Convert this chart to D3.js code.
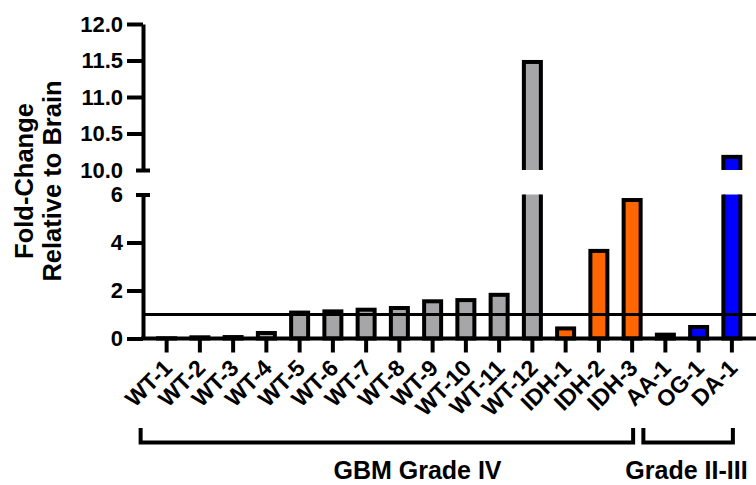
<!DOCTYPE html>
<html><head><meta charset="utf-8">
<script src="https://cdn.jsdelivr.net/npm/d3@7"></script>
<style>
body{margin:0;background:#fff}
svg text{font-family:"Liberation Sans",Arial,sans-serif;font-weight:bold;fill:#000}
</style>
</head><body>
<svg id="chart" width="756" height="485"></svg>
<script>
const categories = ["WT-1","WT-2","WT-3","WT-4","WT-5","WT-6","WT-7","WT-8","WT-9","WT-10","WT-11","WT-12","IDH-1","IDH-2","IDH-3","AA-1","OG-1","DA-1"];
const values = [0.01,0.05,0.06,0.23,1.08,1.13,1.2,1.27,1.55,1.6,1.82,11.48,0.42,3.65,5.77,0.16,0.48,10.18];
const subtypes = ["WT","WT","WT","WT","WT","WT","WT","WT","WT","WT","WT","WT","IDH","IDH","IDH","LGG","LGG","LGG"];
const lowerTicks = [0,2,4,6];
const upperTicks = [10,10.5,11,11.5,12];
const referenceLevel = 1;
const groupNames = ["GBM Grade IV","Grade II-III"];
const groupFirst = ["WT-1","AA-1"];
const groupLast = ["IDH-3","DA-1"];

const svg = d3.select("#chart");
const axisX = 143, rightEdge = 756;
const color = d3.scaleOrdinal().domain(["WT","IDH","LGG"]).range(["#a6a6a8","#ff6600","#0000ff"]);
const x = d3.scaleBand().domain(categories).range([150, 748.5]).padding(0);
const yLow = d3.scaleLinear().domain([0,6]).range([338.5,194.5]);
const yUp = d3.scaleLinear().domain([10,12]).range([170,24]);
const barW = 17;
const data = categories.map((c,i)=>({c, v: values[i], s: subtypes[i]}));

const defs = svg.append("defs");
defs.append("clipPath").attr("id","clipLow").append("rect")
  .attr("x",axisX).attr("y",yLow(6)).attr("width",rightEdge-axisX).attr("height",yLow(0)-yLow(6)+10);
defs.append("clipPath").attr("id","clipUp").append("rect")
  .attr("x",axisX).attr("y",0).attr("width",rightEdge-axisX).attr("height",yUp(10));

// lower bars
svg.append("g").attr("clip-path","url(#clipLow)").selectAll("rect").data(data).join("rect")
  .attr("x", d => x(d.c) + x.bandwidth()/2 - barW/2)
  .attr("y", d => yLow(d.v))
  .attr("width", barW)
  .attr("height", d => yLow(0) - yLow(d.v))
  .attr("fill", d => color(d.s)).attr("stroke","#000").attr("stroke-width",4);

// upper bars
svg.append("g").attr("clip-path","url(#clipUp)").selectAll("rect").data(data.filter(d=>d.v>10)).join("rect")
  .attr("x", d => x(d.c) + x.bandwidth()/2 - barW/2)
  .attr("y", d => yUp(d.v))
  .attr("width", barW)
  .attr("height", d => yUp(10) - yUp(d.v) + 10)
  .attr("fill", d => color(d.s)).attr("stroke","#000").attr("stroke-width",4);

// reference line
svg.append("line").attr("x1",axisX).attr("x2",rightEdge)
  .attr("y1",yLow(referenceLevel)).attr("y2",yLow(referenceLevel))
  .attr("stroke","#000").attr("stroke-width",3);

function styleAxis(g, breakVal){
  g.select(".domain").attr("stroke","#000").attr("stroke-width",4);
  g.selectAll(".tick line").attr("stroke","#000").attr("stroke-width",4);
  g.selectAll(".tick text").style("font-size","22px").attr("fill","#000");
  g.selectAll(".tick").filter(d => d === breakVal).select("line").attr("x1",-7).attr("x2",7);
}
// y axes
const gLow = svg.append("g").attr("transform",`translate(${axisX},0)`)
  .call(d3.axisLeft(yLow).tickValues(lowerTicks).tickSize(16).tickSizeOuter(0).tickPadding(4).tickFormat(d3.format("d")));
styleAxis(gLow, 6);
const gUp = svg.append("g").attr("transform",`translate(${axisX},0)`)
  .call(d3.axisLeft(yUp).tickValues(upperTicks).tickSize(16).tickSizeOuter(0).tickPadding(4).tickFormat(d3.format(".1f")));
styleAxis(gUp, 10);

// x axis
svg.append("line").attr("x1",axisX-2).attr("x2",rightEdge).attr("y1",yLow(0)).attr("y2",yLow(0))
  .attr("stroke","#000").attr("stroke-width",4);
const gX = svg.append("g").attr("transform",`translate(0,${yLow(0)})`)
  .call(d3.axisBottom(x).tickSize(14).tickSizeOuter(0));
gX.select(".domain").remove();
gX.selectAll(".tick line").attr("stroke","#000").attr("stroke-width",4);
gX.selectAll(".tick text").attr("x",0).attr("y",0).attr("dy",0)
  .attr("text-anchor","end").attr("transform","translate(7,31) rotate(-45)")
  .style("font-size","23px").attr("fill","#000");

// y title
const yTitle = svg.append("g");
yTitle.append("text").attr("transform","translate(33,181) rotate(-90)").attr("text-anchor","middle")
  .style("font-size","25.5px").text("Fold-Change");
yTitle.append("text").attr("transform","translate(60.5,181) rotate(-90)").attr("text-anchor","middle")
  .style("font-size","25.5px").text("Relative to Brain");

// group brackets
const bracketOffsets = [[-26, 1],[-22, 1]];
const labelX = [417.5, 686.5];
groupNames.forEach((name,i)=>{
  const l = x(groupFirst[i]) + x.bandwidth()/2 + bracketOffsets[i][0];
  const r = x(groupLast[i]) + x.bandwidth()/2 + bracketOffsets[i][1];
  svg.append("path").attr("d",`M${l},428V442.5H${r}V428`).attr("fill","none")
    .attr("stroke","#000").attr("stroke-width",4);
  svg.append("text").attr("x",labelX[i]).attr("y",478.5).attr("text-anchor","middle")
    .style("font-size","25px").text(name);
});
</script>
</body></html>
